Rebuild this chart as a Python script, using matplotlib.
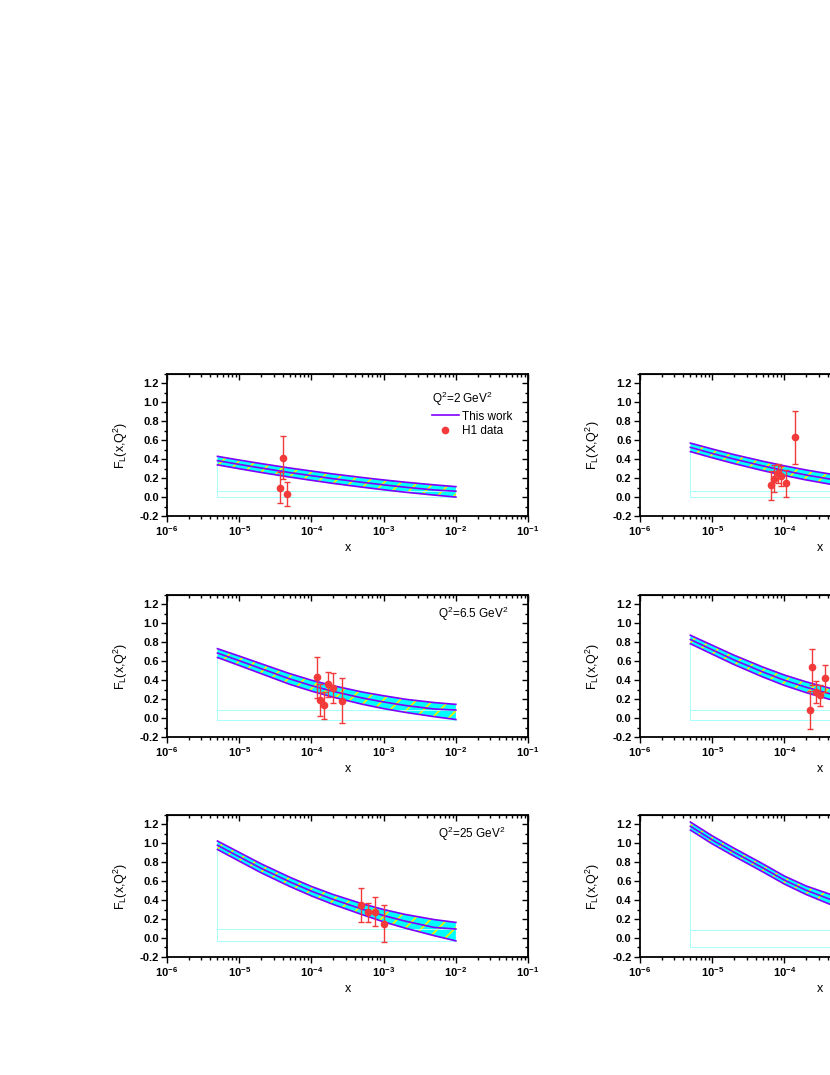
import matplotlib
matplotlib.use("Agg")
import matplotlib.pyplot as plt
from matplotlib.lines import Line2D
from matplotlib.ticker import FixedLocator, MultipleLocator, FuncFormatter, LogLocator, NullFormatter
import numpy as np

plt.rcParams['font.family'] = ['Liberation Sans', 'DejaVu Sans']
plt.rcParams['mathtext.fontset'] = 'custom'
plt.rcParams['mathtext.rm'] = 'Liberation Sans'
plt.rcParams['mathtext.it'] = 'Liberation Sans'
plt.rcParams['mathtext.bf'] = 'Liberation Sans:bold'
plt.rcParams['hatch.linewidth'] = 1.3

# x grid of the model curves
x_curve = [5e-6, 1e-5, 2e-5, 5e-5, 1e-4, 2e-4, 5e-4, 1e-3, 2e-3, 5e-3, 1e-2]

# Q2 = 2 GeV2
up_1 = [0.430, 0.391, 0.354, 0.307, 0.275, 0.244, 0.207, 0.181, 0.157, 0.129, 0.110]
mid_1 = [0.385, 0.345, 0.307, 0.259, 0.226, 0.194, 0.156, 0.129, 0.104, 0.075, 0.062]
lo_1 = [0.340, 0.299, 0.260, 0.211, 0.177, 0.144, 0.105, 0.077, 0.051, 0.021, 0.0]
xd_1 = [3.7e-5, 4.1e-5, 4.6e-5]
yd_1 = [0.10, 0.415, 0.035]
ed_1 = [0.16, 0.225, 0.125]

# right top panel
up_2 = [0.570, 0.508, 0.449, 0.379, 0.330, 0.286, 0.235, 0.201, 0.172, 0.139, 0.120]
mid_2 = [0.525, 0.461, 0.402, 0.330, 0.279, 0.233, 0.181, 0.146, 0.115, 0.080, 0.066]
lo_2 = [0.480, 0.415, 0.354, 0.280, 0.228, 0.181, 0.127, 0.090, 0.058, 0.022, 0.0]
xd_2 = [6.6e-5, 7.3e-5, 8.1e-5, 9.1e-5, 1.07e-4, 1.41e-4]
yd_2 = [0.125, 0.195, 0.25, 0.225, 0.145, 0.63]
ed_2 = [0.155, 0.145, 0.10, 0.105, 0.145, 0.28]

# Q2 = 6.5 GeV2
up_3 = [0.733, 0.655, 0.575, 0.470, 0.400, 0.342, 0.276, 0.236, 0.199, 0.164, 0.145]
mid_3 = [0.687, 0.606, 0.523, 0.414, 0.343, 0.282, 0.213, 0.170, 0.133, 0.096, 0.085]
lo_3 = [0.640, 0.556, 0.470, 0.357, 0.285, 0.221, 0.147, 0.100, 0.060, 0.015, -0.015]
xd_3 = [1.2e-4, 1.33e-4, 1.49e-4, 1.7e-4, 1.97e-4, 2.63e-4]
yd_3 = [0.43, 0.195, 0.135, 0.355, 0.315, 0.185]
ed_3 = [0.22, 0.17, 0.14, 0.13, 0.16, 0.235]

# right middle panel
up_4 = [0.875, 0.770, 0.665, 0.540, 0.455, 0.383, 0.302, 0.251, 0.210, 0.170, 0.150]
mid_4 = [0.830, 0.722, 0.615, 0.488, 0.400, 0.326, 0.242, 0.186, 0.140, 0.100, 0.085]
lo_4 = [0.785, 0.675, 0.566, 0.435, 0.345, 0.269, 0.182, 0.120, 0.065, 0.010, -0.020]
xd_4 = [2.23e-4, 2.45e-4, 2.75e-4, 3.1e-4, 3.6e-4]
yd_4 = [0.085, 0.535, 0.275, 0.24, 0.42]
ed_4 = [0.20, 0.19, 0.12, 0.11, 0.14]

# Q2 = 25 GeV2
up_5 = [1.025, 0.905, 0.785, 0.643, 0.545, 0.460, 0.363, 0.301, 0.249, 0.195, 0.165]
mid_5 = [0.980, 0.858, 0.737, 0.594, 0.495, 0.408, 0.306, 0.237, 0.178, 0.112, 0.095]
lo_5 = [0.935, 0.812, 0.690, 0.545, 0.445, 0.355, 0.248, 0.171, 0.104, 0.025, -0.030]
xd_5 = [4.9e-4, 6.1e-4, 7.5e-4, 1.0e-3]
yd_5 = [0.35, 0.27, 0.28, 0.15]
ed_5 = [0.18, 0.10, 0.15, 0.195]

# right bottom panel
up_6 = [1.225, 1.080, 0.950, 0.785, 0.655, 0.550, 0.445, 0.380, 0.330, 0.280, 0.250]
mid_6 = [1.180, 1.037, 0.907, 0.742, 0.612, 0.505, 0.390, 0.305, 0.230, 0.140, 0.090]
lo_6 = [1.140, 0.995, 0.865, 0.700, 0.570, 0.460, 0.335, 0.230, 0.130, 0.0, -0.100]
xd_6 = []
yd_6 = []
ed_6 = []

fl = "F$_\\mathregular{L}$(x,Q$^\\mathregular{2}$)"
panels = [
    (up_1, mid_1, lo_1, xd_1, yd_1, ed_1, fl, "Q$^\\mathregular{2}$=2 GeV$^\\mathregular{2}$"),
    (up_2, mid_2, lo_2, xd_2, yd_2, ed_2, "F$_\\mathregular{L}$(X,Q$^\\mathregular{2}$)", None),
    (up_3, mid_3, lo_3, xd_3, yd_3, ed_3, fl, "Q$^\\mathregular{2}$=6.5 GeV$^\\mathregular{2}$"),
    (up_4, mid_4, lo_4, xd_4, yd_4, ed_4, fl, None),
    (up_5, mid_5, lo_5, xd_5, yd_5, ed_5, fl, "Q$^\\mathregular{2}$=25 GeV$^\\mathregular{2}$"),
    (up_6, mid_6, lo_6, xd_6, yd_6, ed_6, fl, None),
]

purple = '#8000FF'
cyan = '#00FFFF'
red = '#F23A3A'

fig = plt.figure(figsize=(8.3, 10.75), dpi=100)

lefts = [0.2012, 0.771]
bottoms = [0.52, 0.3144, 0.1098]
w, h = 0.435, 0.1321


def set_ticks(axis_x, axis_y):
    axis_x.set_major_locator(LogLocator(base=10, numticks=10))
    axis_x.set_minor_locator(LogLocator(base=10, subs=np.arange(2, 10), numticks=20))
    axis_y.set_major_locator(FixedLocator(np.arange(-0.2, 1.21, 0.2)))
    axis_y.set_minor_locator(MultipleLocator(0.1))


def xlabel_fmt(xmax):
    # decades past the page edge get no label (they are cut off anyway)
    def f(v, p):
        if v > xmax * 1.01:
            return ""
        return r"$\mathbf{10^{%d}}$" % round(np.log10(v))
    return f


for i, (up, mid, lo, xd, yd, ed, ylab, qlab) in enumerate(panels):
    ax = fig.add_axes([lefts[i % 2], bottoms[i // 2], w, h])
    x = np.array(x_curve)

    # band
    ax.fill_between(x, lo, mid, facecolor=cyan, edgecolor='#F0F000', hatch='//', linewidth=0)
    ax.fill_between(x, mid, up, facecolor=cyan, edgecolor='#F0F000', hatch='//', linewidth=0)
    # leftover outline from the fill
    ax.plot([x[0], x[0]], [lo[-1], lo[0]], color='#A8FFFF', lw=0.7)
    ax.plot([x[0], x[-1]], [lo[-1], lo[-1]], color='#A8FFFF', lw=0.7)
    ax.plot([x[0], x[-1]], [mid[-1], mid[-1]], color='#A8FFFF', lw=0.7)
    for curve in (up, mid, lo):
        ax.plot(x, curve, color=purple, lw=1.2)

    if xd:
        ax.errorbar(xd, yd, yerr=ed, fmt='o', color=red, ms=4.5, elinewidth=1.0,
                    capsize=2.5, capthick=1.0, ecolor=red)

    ax.set_xscale('log')
    ax.set_xlim(1e-6, 1e-1)
    ax.set_ylim(-0.2, 1.3)
    set_ticks(ax.xaxis, ax.yaxis)
    ax.yaxis.set_major_formatter(FuncFormatter(lambda v, p: "%.1f" % v if abs(v) > 1e-9 else "0.0"))
    ax.xaxis.set_minor_formatter(NullFormatter())
    ax.xaxis.set_major_formatter(FuncFormatter(xlabel_fmt(1e-1 if i % 2 == 0 else 1e-4)))

    for lab in ax.get_yticklabels():
        lab.set_fontweight('bold')
    ax.tick_params(axis='both', which='both', labelsize=8, width=1.0, pad=2)
    ax.tick_params(axis='both', which='major', length=4)
    ax.tick_params(axis='both', which='minor', length=2)
    ax.tick_params(axis='x', which='both', direction='out', top=False)
    ax.tick_params(axis='y', which='both', direction='out', right=False)
    for s in ax.spines.values():
        s.set_linewidth(1.3)

    # mirrored inward ticks on top and right
    sx = ax.secondary_xaxis('top')
    sy = ax.secondary_yaxis('right')
    set_ticks(sx.xaxis, sy.yaxis)
    sx.tick_params(which='both', direction='in', labeltop=False, width=1.0)
    sx.tick_params(which='major', length=4)
    sx.tick_params(which='minor', length=2)
    sy.tick_params(which='both', direction='in', labelright=False, width=1.0)
    sy.tick_params(which='major', length=4)
    sy.tick_params(which='minor', length=2)

    ax.set_ylabel(ylab, fontsize=9, labelpad=7)
    ax.set_xlabel("x", fontsize=9, labelpad=3)

    if i == 0:
        handles = [Line2D([], [], color=purple, lw=1.2),
                   Line2D([], [], color=red, marker='o', ms=4.5, ls='none')]
        ax.legend(handles, ["This work", "H1 data"], title=qlab, loc='upper left',
                  bbox_to_anchor=(0.71, 0.95), frameon=False, fontsize=8.5,
                  title_fontsize=8.5, alignment='left', handlelength=2.3,
                  handletextpad=0.3, labelspacing=0.25, borderpad=0.2)
    elif qlab:
        ax.text(0.75, 0.87, qlab, transform=ax.transAxes, fontsize=8.5, va='center')

fig.savefig("out.png", dpi=100)
